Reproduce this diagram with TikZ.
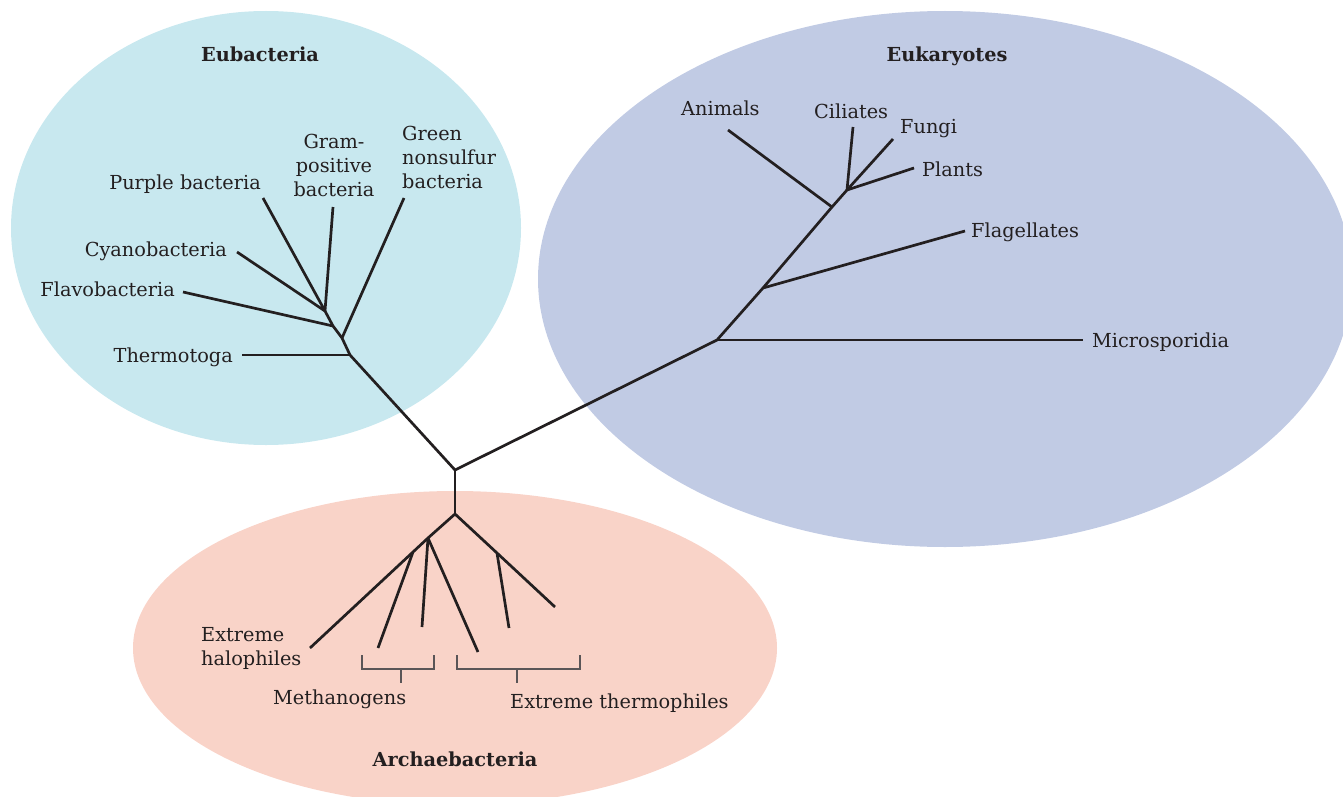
\documentclass[tikz,border=0pt]{standalone}
\usepackage{fontspec}
\setmainfont{DejaVu Serif}
\definecolor{eubac}{HTML}{C8E8EF}
\definecolor{euk}{HTML}{C1CBE4}
\definecolor{arch}{HTML}{F9D3C8}
\definecolor{ink}{HTML}{231F20}
\definecolor{brk}{HTML}{5A5557}
\begin{document}
\begin{tikzpicture}[x=1pt,y=-1pt,
  branch/.style={line width=2.7pt, draw=ink, line join=miter},
  bracket/.style={line width=1.4pt, draw=brk},
  lbl/.style={font=\fontsize{19.3}{24}\selectfont, text=ink, inner sep=0pt},
  grp/.style={font=\bfseries\fontsize{19.3}{24}\selectfont, text=ink, inner sep=0pt}]
\useasboundingbox (0,0) rectangle (1343,797);
% group areas
\fill[eubac] (266,228) ellipse [x radius=255pt, y radius=217pt];
\fill[euk] (945,279) ellipse [x radius=407pt, y radius=268pt];
\fill[arch] (455,648) ellipse [x radius=322pt, y radius=157pt];
% group titles
\node[grp, anchor=base] (tEu) at (260,62) {Eubacteria};
\node[grp, anchor=base] (tEk) at (947,62) {Eukaryotes};
\node[grp, anchor=base] (tAr) at (455,766) {Archaebacteria};
% tree nodes
\coordinate (R) at (455,470);
\coordinate (E1) at (350,355);
\coordinate (E2) at (342,338);
\coordinate (E3) at (333,326);
\coordinate (E4) at (325,311);
\coordinate (lT) at (242,355);
\coordinate (lG) at (404,198);
\coordinate (lF) at (183,292);
\coordinate (lP) at (263,198);
\coordinate (lGr) at (333,207);
\coordinate (lC) at (237,252);
\coordinate (K1) at (717,340);
\coordinate (K2) at (763,288);
\coordinate (K3) at (832,207);
\coordinate (K4) at (847,190);
\coordinate (lM) at (1083,340);
\coordinate (lFl) at (965,231);
\coordinate (lA) at (728,130);
\coordinate (lCi) at (853,127);
\coordinate (lFu) at (893,139);
\coordinate (lPl) at (914,168);
\coordinate (A1) at (455,514);
\coordinate (A2) at (428,538);
\coordinate (A3) at (413,552);
\coordinate (A4) at (497,553);
\coordinate (lH) at (310,648);
\coordinate (lM1) at (378,648);
\coordinate (lM2) at (422,627);
\coordinate (lM3) at (478,652);
\coordinate (lR1) at (555,607);
\coordinate (lR2) at (509,628);
% branches
\draw[branch] (E4) -- (E3) -- (E2) -- (E1) -- (R) -- (K1) -- (K2) -- (K3) -- (K4);
\draw[branch] (E1) -- (lT);
\draw[branch] (E2) -- (lG);
\draw[branch] (E3) -- (lF);
\draw[branch] (E4) -- (lP);
\draw[branch] (E4) -- (lGr);
\draw[branch] (E4) -- (lC);
\draw[branch] (K1) -- (lM);
\draw[branch] (K2) -- (lFl);
\draw[branch] (K3) -- (lA);
\draw[branch] (K4) -- (lCi);
\draw[branch] (K4) -- (lFu);
\draw[branch] (K4) -- (lPl);
\draw[branch] (R) -- (A1);
\draw[branch] (A1) -- (A2) -- (A3) -- (lH);
\draw[branch] (A3) -- (lM1);
\draw[branch] (A2) -- (lM2);
\draw[branch] (A2) -- (lM3);
\draw[branch] (A1) -- (A4) -- (lR1);
\draw[branch] (A4) -- (lR2);
% brackets
\coordinate (b1l) at (362,655);
\coordinate (b1r) at (434,655);
\coordinate (b1m) at (401,669);
\coordinate (b1t) at (401,683);
\draw[bracket] (b1l) -- (b1l |- b1m) -- (b1r |- b1m) -- (b1r);
\draw[bracket] (b1m) -- (b1t);
\coordinate (b2l) at (457,655);
\coordinate (b2r) at (580,655);
\coordinate (b2m) at (517,669);
\coordinate (b2t) at (517,683);
\draw[bracket] (b2l) -- (b2l |- b2m) -- (b2r |- b2m) -- (b2r);
\draw[bracket] (b2m) -- (b2t);
% eubacteria labels
\node[lbl, anchor=base east] (nT) at (233,362) {Thermotoga};
\node[lbl, anchor=base east] (nF) at (175,296) {Flavobacteria};
\node[lbl, anchor=base east] (nC) at (227,256) {Cyanobacteria};
\node[lbl, anchor=base east] (nP) at (261,189) {Purple bacteria};
\node[lbl, anchor=north, align=center] (nGr) at (334,134) {Gram-\\positive\\bacteria};
\node[lbl, anchor=north west, align=left] (nG) at (402,126) {Green\\nonsulfur\\bacteria};
% eukaryote labels
\node[lbl, anchor=base west] (nA) at (681,116) {Animals};
\node[lbl, anchor=base west] (nCi) at (814,118) {Ciliates};
\node[lbl, anchor=base west] (nFu) at (900,133) {Fungi};
\node[lbl, anchor=base west] (nPl) at (922,176) {Plants};
\node[lbl, anchor=base west] (nFl) at (971,237) {Flagellates};
\node[lbl, anchor=base west] (nM) at (1092,347) {Microsporidia};
% archaebacteria labels
\node[lbl, anchor=north west, align=left] (nH) at (201,627) {Extreme\\halophiles};
\node[lbl, anchor=base west] (nMe) at (273,704) {Methanogens};
\node[lbl, anchor=base west] (nTh) at (510,708) {Extreme thermophiles};
\end{tikzpicture}
\end{document}
